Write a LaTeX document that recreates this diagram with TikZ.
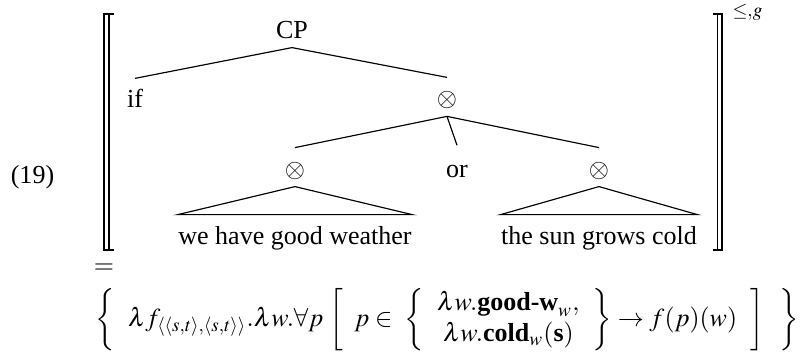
\documentclass[tikz,border=0pt]{standalone}
\usepackage{mathptmx}
\usepackage[no-math]{fontspec}
\setmainfont{Liberation Serif}
\begin{document}
\begin{tikzpicture}[x=0.3846pt,y=-0.3846pt,
  tn/.style={inner sep=0pt,text height=7pt,text depth=2pt},
  tl/.style={line width=0.45pt},
  br/.style={line width=0.5pt}]
\useasboundingbox (0,0) rectangle (800,354);
% equation number
\node[tn] (num) at (32.5,177) {(19)};
% brackets
\draw[br] (114,14) -- (104,14) -- (104,250) -- (114,250);
\draw[br] (109,14) -- (109,250);
\draw[br] (713,14) -- (722,14) -- (722,250) -- (713,250);
\draw[br] (717.5,14) -- (717.5,250);
\node[inner sep=0pt,anchor=west] (sup) at (732,12) {$\scriptstyle\leq,g$};
% tree nodes
\node[tn] (cp) at (292,32) {CP};
\node[tn] (ifn) at (135,101) {if};
\node[tn] (x1) at (447,100) {$\otimes$};
\node[tn] (x2) at (295,171) {$\otimes$};
\node[tn] (orn) at (457,170.5) {or};
\node[tn] (x3) at (599,171) {$\otimes$};
\node[tn] (t1) at (295,238) {we have good weather};
\node[tn] (t2) at (599,238) {the sun grows cold};
% connectors
\draw[tl] ([yshift=-1.3pt]cp.south) -- ([yshift=4pt]ifn.north);
\draw[tl] ([yshift=-1.3pt]cp.south) -- ([yshift=4pt]x1.north);
\draw[tl] ([yshift=-1.6pt]x1.south) -- ([yshift=4.3pt]x2.north);
\draw[tl] ([yshift=-1.6pt]x1.south) -- ([yshift=5pt]orn.north);
\draw[tl] ([yshift=-1.6pt]x1.south) -- ([yshift=4.3pt]x3.north);
\draw[tl] ([yshift=-1.3pt]x2.south) -- ([yshift=4.3pt]t1.north west) -- ([yshift=4.3pt]t1.north east) -- cycle;
\draw[tl] ([yshift=-1.3pt]x3.south) -- ([yshift=4.3pt]t2.north west) -- ([yshift=4.3pt]t2.north east) -- cycle;
% equals and formula
\node[inner sep=0pt] (eq) at (104,269) {$=$};
\node[inner sep=0pt,anchor=west,text height=11pt,text depth=11pt] (form) at (95,326) {$\left\{\enskip \lambda f_{\langle\langle s,t\rangle,\langle s,t\rangle\rangle}.\lambda w.\forall p\,\left[\;\; p\in\ \left\{\begin{array}{c}\lambda w.\textbf{good-w}_w,\\ \lambda w.\textbf{cold}_w(\textbf{s})\end{array}\right\}\rightarrow f(p)(w)\enskip\right]\enskip\,\right\}$};
\end{tikzpicture}
\end{document}
